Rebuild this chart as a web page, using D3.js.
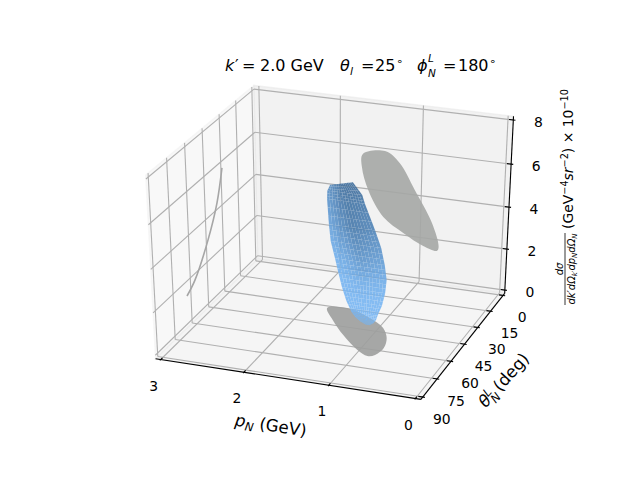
<!DOCTYPE html>
<html><head><meta charset="utf-8"><script src="https://cdn.jsdelivr.net/npm/d3@7"></script>
<style>html,body{margin:0;background:#fff}svg{display:block}text{font-family:"DejaVu Sans";fill:#000}</style></head>
<body><svg id="c" width="640" height="480"></svg>
<script>
const pTicks=[0,1,2,3], thetaTicks=[0,15,30,45,60,75,90], zTicks=[0,2,4,6,8];
const rowTheta=[33,34.5,36,40,44,48,52,56,60,64,66,67.8,69];
const rowPLow =[1.43,1.30,1.25,1.08,0.96,0.87,0.80,0.77,0.76,0.765,0.76,0.77,0.80];
const rowPHigh=[1.70,1.715,1.70,1.63,1.56,1.46,1.37,1.28,1.18,1.07,1.00,0.92,0.84];
const rowSigmaLow=[6.0,5.55,5.25,4.3,3.75,3.2,2.75,2.35,1.98,1.72,1.62,1.56,1.52];
const rowSigmaHigh=[5.75,5.55,5.25,4.3,3.75,3.2,2.75,2.35,1.98,1.72,1.62,1.56,1.52];
const shadeHigh=[.55,.5,.42,.25,.12,.04,0,0,0,0,0,0,0];
const shadeMid =[.95,.92,.88,.78,.62,.42,.2,.07,0,0,0,0,0];
const shadeLow =[1,.9,.8,.62,.45,.28,.12,.03,0,0,0,0,0];
const floorP=[1.72,1.50,1.16,0.92,0.79,0.73,0.76,0.83,0.99,1.28,1.54];
const floorTheta=[34.6,32.2,37.7,44.3,51.9,60.1,66.5,68.2,64.7,54.6,43.7];
const wallP=[1.70,1.43,1.25,1.06,0.84,0.75,0.77,0.94,1.19,1.44,1.63,1.71];
const wallSigma=[5.71,5.97,5.50,4.33,2.87,1.76,1.56,1.71,2.21,2.85,4.04,5.09];
const curveTheta=[33.5,38.9,47.8,60.4,67.7];
const curveSigma=[5.91,4.53,3.23,1.95,1.57];
const ELEV=30, AZIM=110, DIST=10;
const pad=1/48;
const sx=d3.scaleLinear([0,3],[0,1]);
const sy=d3.scaleLinear([0,90],[0,1]);
const sz=d3.scaleLinear([0,8],[0,1]);
const screenX=d3.scaleLinear([-0.095,0.09],[80,576]);
const screenY=d3.scaleLinear([-0.095,0.09],[427.2,57.6]);
const el=ELEV*Math.PI/180,az=AZIM*Math.PI/180;
const C=[.5,.5,.5];
const w=[Math.cos(el)*Math.cos(az),Math.cos(el)*Math.sin(az),Math.sin(el)];
const E=C.map((c,i)=>c+DIST*w[i]);
const cross=(a,b)=>[a[1]*b[2]-a[2]*b[1],a[2]*b[0]-a[0]*b[2],a[0]*b[1]-a[1]*b[0]];
const dot=(a,b)=>a[0]*b[0]+a[1]*b[1]+a[2]*b[2];
const nrm=a=>{const n=Math.hypot(...a);return a.map(v=>v/n)};
const u=nrm(cross([0,0,1],w)), v=cross(w,u);
function proj(p,t,z){const P=[sx(p),sy(t),sz(z)],d=P.map((c,i)=>c-E[i]);const dep=-dot(w,d);return [screenX(dot(u,d)/dep),screenY(dot(v,d)/dep)];}
const svg=d3.select('#c');
const line=(a,b,col,wd)=>svg.append('line').attr('x1',a[0]).attr('y1',a[1]).attr('x2',b[0]).attr('y2',b[1]).attr('stroke',col).attr('stroke-width',wd);
const xl=-3*pad,xh=3+3*pad,yl=-90*pad,yh=90+90*pad,zl=-8*pad,zh=8+8*pad;
const pane=(pts,c)=>svg.append('polygon').attr('points',pts.map(q=>q.join(',')).join(' ')).attr('fill',c).attr('fill-opacity',.5).attr('stroke',c).attr('stroke-opacity',.5).attr('stroke-width',1.4);
pane([proj(xh,yl,zl),proj(xh,yh,zl),proj(xh,yh,zh),proj(xh,yl,zh)],'rgb(242,242,242)');
pane([proj(xl,yl,zl),proj(xh,yl,zl),proj(xh,yl,zh),proj(xl,yl,zh)],'rgb(230,230,230)');
pane([proj(xl,yl,zl),proj(xh,yl,zl),proj(xh,yh,zl),proj(xl,yh,zl)],'rgb(236,236,236)');
const G='#b0b0b0',GW=1.1;
pTicks.forEach(p=>{line(proj(p,yh,zl),proj(p,yl,zl),G,GW);line(proj(p,yl,zl),proj(p,yl,zh),G,GW);});
thetaTicks.forEach(t=>{line(proj(xl,t,zl),proj(xh,t,zl),G,GW);line(proj(xh,t,zl),proj(xh,t,zh),G,GW);});
zTicks.forEach(z=>{line(proj(xh,yl,z),proj(xl,yl,z),G,GW);line(proj(xh,yl,z),proj(xh,yh,z),G,GW);});
line(proj(xl,yh,zl),proj(xh,yh,zl),'#000',1.1);
line(proj(xl,yl,zl),proj(xl,yh,zl),'#000',1.1);
line(proj(xl,yl,zl),proj(xl,yl,zh),'#000',1.1);
const dp=3/12,dt=90/12;
pTicks.forEach(p=>line(proj(p,yh-.2*dt,zl),proj(p,yh+.1*dt,zl),'#000',1.1));
thetaTicks.forEach(t=>line(proj(xl+.2*dp,t,zl),proj(xl-.1*dp,t,zl),'#000',1.1));
zTicks.forEach(z=>line(proj(xl+.2*dp,yl,z),proj(xl-.1*dp,yl,z),'#000',1.1));
const lbl=(q,dx,dy,s)=>svg.append('text').attr('x',q[0]+dx).attr('y',q[1]+dy).attr('text-anchor','middle').attr('dominant-baseline','central').attr('font-size',13.9).text(s);
pTicks.forEach(p=>lbl(proj(p,yh,zl),-7,26,p));
thetaTicks.forEach(t=>lbl(proj(xl,t,zl),19,22,t));
zTicks.forEach(z=>lbl(proj(xl,yl,z),25,2,z));
// projections
const path=d3.line().curve(d3.curveCatmullRomClosed.alpha(.5));
svg.append('path').attr('d',path(floorP.map((p,i)=>proj(p,floorTheta[i],0)))).attr('fill','#9d9f9d').attr('fill-opacity',.9);
svg.append('path').attr('d',path(wallP.map((p,i)=>proj(p,0,wallSigma[i])))).attr('fill','#a5a7a5').attr('fill-opacity',.9);
svg.append('path').attr('d',d3.line().curve(d3.curveCatmullRom)(curveTheta.map((t,i)=>proj(3,t,curveSigma[i])))).attr('fill','none').attr('stroke','#a6a6a6').attr('stroke-width',1.6);
// surface
const cScale=d3.scaleLinear([0,1],['#78b6f3','#3b6a99']).interpolate(d3.interpolateRgb);
const g=svg.append('g').attr('opacity',.9);
const SUBR=3,SUBC=14;
const at=(i,f,c)=>{const j=Math.min(i+1,rowTheta.length-1),m=(a)=>a[i]+(a[j]-a[i])*f;
 const lo=m(rowPLow),hi=m(rowPHigh),sl=m(rowSigmaLow),sh=m(rowSigmaHigh);
 return {pos:proj(lo+(hi-lo)*c,m(rowTheta),sl+(sh-sl)*c),
 s:c<.5?m(shadeLow)+(m(shadeMid)-m(shadeLow))*c*2:m(shadeMid)+(m(shadeHigh)-m(shadeMid))*(c-.5)*2};};
for(let i=0;i<rowTheta.length-1;i++)for(let r=0;r<SUBR;r++)for(let k=0;k<SUBC;k++){
 const f0=r/SUBR,f1=(r+1)/SUBR,c0=k/SUBC,c1=(k+1)/SUBC;
 const a=at(i,f0,c0),b=at(i,f0,c1),c=at(i,f1,c1),d=at(i,f1,c0);
 g.append('polygon').attr('points',[a,b,c,d].map(q=>q.pos.join(',')).join(' ')).attr('fill',cScale((a.s+c.s)/2));
}
// text
const T=(x,y,s,o={})=>svg.append('text').attr('x',x).attr('y',y).attr('font-size',o.fs||16).attr('font-style',o.it?'italic':'normal').text(s);
T(225,71,'k',{it:1});T(235,71,'′',{fs:16});T(242,71,'=');T(260,71,'2.0 GeV');
T(340,71,'θ',{it:1});T(350,75,'l',{it:1,fs:11});T(361,71,'=');T(375,71,'25');T(396,65,'∘',{fs:11});
T(417,71,'ϕ',{it:1});T(428,62,'L',{it:1,fs:10.5});T(428,77,'N',{it:1,fs:10.5});T(443,71,'=');T(458,71,'180');T(489,65,'∘',{fs:11});
const rot=(x,y,a,build,fs)=>{const t=svg.append('text').attr('transform',`translate(${x},${y}) rotate(${a})`).attr('text-anchor','middle').attr('font-size',fs);build(t);return t;};
const sp=(t,s,o={})=>t.append('tspan').attr('font-style',o.it?'italic':'normal').attr('font-size',o.fs||null).attr('dy',o.dy||0).text(s);
rot(270,431,8.6,t=>{sp(t,'p',{it:1});sp(t,'N',{it:1,fs:11.7,dy:3});sp(t,' (GeV)',{dy:-3});},16.67);
rot(508,384,-48,t=>{sp(t,'θ',{it:1});t.append('tspan').attr('font-size',11.7).attr('font-style','italic').attr('dy',4).text('N');t.append('tspan').attr('font-size',11.7).attr('font-style','italic').attr('dy',-10).attr('dx',-9).text('L');sp(t,' (deg)',{dy:6});},16.67);
rot(573,159,-90,t=>{sp(t,'(GeV');sp(t,'−4',{fs:9.7,dy:-5});sp(t,'sr',{it:1,dy:5});sp(t,'−2',{fs:9.7,dy:-5});sp(t,') × 10',{dy:5});sp(t,'−10',{fs:9.7,dy:-5});},13.9);
line([565,233],[565,305],'#000',.8);
rot(563,269,-90,t=>{sp(t,'d',{it:1});sp(t,'σ',{it:1});},10);
rot(575,269,-90,t=>{sp(t,'dk′d',{it:1});sp(t,'Ω',{it:1});sp(t,'k′',{it:1,fs:7,dy:2});sp(t,'dp',{it:1,dy:-2});sp(t,'N',{it:1,fs:7,dy:2});sp(t,'d',{it:1,dy:-2});sp(t,'Ω',{it:1});sp(t,'N',{it:1,fs:7,dy:2});t.attr('textLength',71).attr('lengthAdjust','spacingAndGlyphs');},10);
</script></body></html>
